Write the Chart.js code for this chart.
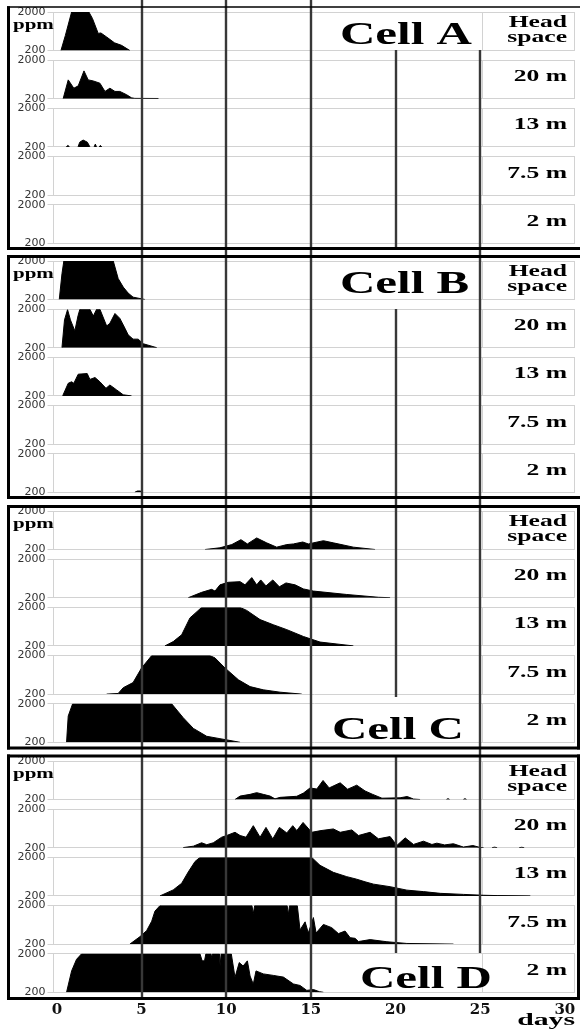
<!DOCTYPE html>
<html>
<head>
<meta charset="utf-8">
<script src="https://cdn.jsdelivr.net/npm/chart.js@4.4.1/dist/chart.umd.min.js"></script>
<style>
html,body{margin:0;padding:0;background:#fff;}
canvas{display:block;}
</style>
</head>
<body>
<canvas id="c" width="580" height="1030"></canvas>
<script>
// ---------------- DATA (day, ppm) ----------------
const X_TICKS = [0, 5, 10, 15, 20, 25, 30];
const Y_TICKS = [200, 2000];
const CELLS = ['Cell A', 'Cell B', 'Cell C', 'Cell D'];
const DEPTHS = [['Head', 'space'], ['20 m'], ['13 m'], ['7.5 m'], ['2 m']];

const A_HS = [[0.24,200],[0.5,900],[0.87,2000],[1.89,2000],[2.1,1700],[2.44,1000],[2.6,1020],[2.94,830],[3.4,560],[3.82,440],[4.31,200]];
const A_20 = [[0.37,200],[0.67,1080],[1.0,690],[1.26,800],[1.6,1500],[1.85,1080],[2.15,1030],[2.54,925],[2.84,540],[3.13,690],[3.43,540],[3.72,540],[4.12,385],[4.41,240],[4.6,215],[6.0,210]];
const A_13 = [[0.55,200],[0.65,270],[0.75,200],[1.25,200],[1.35,420],[1.55,520],[1.8,420],[1.95,200],[2.2,200],[2.27,330],[2.34,200],[2.5,200],[2.57,270],[2.65,200]];
const A_75 = [];
const A_2 = [];

const B_HS = [[0.14,200],[0.3,1400],[0.41,2000],[3.33,2000],[3.62,1180],[3.92,780],[4.21,500],[4.5,310],[5.2,200]];
const B_20 = [[0.3,200],[0.45,1500],[0.63,1980],[0.8,1500],[1.06,985],[1.25,1700],[1.36,2000],[1.95,2000],[2.15,1680],[2.35,2000],[2.54,2000],[2.94,1215],[3.13,1340],[3.43,1800],[3.72,1570],[4.02,1110],[4.21,800],[4.5,600],[4.8,600],[5.1,385],[5.9,200]];
const B_13 = [[0.34,200],[0.67,790],[0.87,860],[1.0,790],[1.26,1215],[1.79,1245],[1.95,970],[2.25,1060],[2.54,860],[2.9,555],[3.13,710],[3.53,480],[3.92,250],[4.41,200]];
const B_75 = [];
const B_2 = [[4.6,200],[4.75,260],[4.95,260],[5.0,200]];

const C_HS = [[8.75,200],[9.63,280],[10.33,430],[10.87,660],[11.25,460],[11.8,740],[12.39,510],[12.98,310],[13.58,430],[13.97,460],[14.52,550],[14.85,460],[15.74,610],[16.33,510],[17.51,310],[18.79,200]];
const C_20 = [[7.76,200],[8.55,450],[9.14,590],[9.34,510],[9.63,800],[10.12,920],[10.82,950],[11.11,800],[11.51,1140],[11.8,800],[12.04,1030],[12.35,750],[12.75,1030],[13.14,710],[13.53,890],[14.07,800],[14.56,610],[15.15,510],[17.12,350],[18.99,220],[19.68,200]];
const C_13 = [[6.38,200],[6.87,400],[7.37,720],[7.86,1510],[8.55,2000],[10.82,2000],[11.21,1860],[12.0,1430],[12.78,1190],[13.58,960],[14.56,640],[15.54,380],[17.51,200]];
const C_75 = [[2.94,200],[3.62,230],[3.92,500],[4.5,740],[5.0,1420],[5.6,2000],[9.04,2000],[9.34,1890],[9.93,1420],[10.72,870],[11.41,550],[12.19,400],[13.18,290],[14.46,200]];
const C_2 = [[0.57,200],[0.67,1430],[0.93,2000],[6.78,2000],[7.46,1350],[8.06,850],[8.85,480],[9.63,370],[10.82,200]];

const D_HS = [[10.52,200],[10.82,360],[11.41,440],[11.8,520],[12.19,440],[12.59,360],[12.88,230],[13.18,300],[14.17,350],[14.56,500],[14.95,740],[15.35,690],[15.72,1090],[16.08,740],[16.73,980],[17.17,680],[17.71,870],[18.2,600],[18.62,450],[19.2,260],[20.27,280],[20.69,340],[21.06,220],[21.45,200],[23.0,200],[23.1,240],[23.2,200],[24.0,200],[24.1,240],[24.2,200]];
const D_20 = [[7.46,205],[8.06,270],[8.55,430],[8.85,340],[9.24,430],[9.73,690],[10.03,770],[10.52,920],[10.82,770],[11.17,690],[11.6,1230],[12.0,690],[12.35,1150],[12.75,610],[13.14,1150],[13.58,890],[13.93,1230],[14.17,1000],[14.54,1380],[15.05,920],[15.6,1000],[16.33,1077],[16.73,920],[17.42,1030],[17.81,770],[18.5,920],[18.99,615],[19.68,720],[20.08,306],[20.57,660],[21.06,352],[21.65,505],[22.15,350],[22.44,412],[22.9,330],[23.42,385],[24.01,230],[24.57,300],[25.0,210],[25.2,200],[25.7,200],[25.85,225],[26.0,200],[27.3,200],[27.45,220],[27.6,200]];
const D_13 = [[6.09,200],[6.87,480],[7.37,790],[7.76,1320],[8.16,1810],[8.45,2000],[15.05,2000],[15.54,1630],[16.33,1300],[17.12,1100],[17.71,980],[18.2,860],[18.7,750],[19.68,630],[20.67,470],[21.65,400],[22.64,320],[24.01,270],[25.2,230],[26.0,215],[27.96,200]];
const D_75 = [[4.31,200],[4.91,550],[5.3,830],[5.6,1270],[5.79,1740],[6.09,2000],[11.52,2000],[11.6,1620],[11.68,2000],[13.6,2000],[13.67,1580],[13.74,2000],[14.2,2000],[14.36,860],[14.66,1240],[14.85,720],[15.15,1440],[15.31,720],[15.74,1120],[16.23,970],[16.63,690],[17.02,810],[17.32,500],[17.61,470],[17.81,320],[18.5,410],[19.49,310],[20.67,230],[23.42,200]];
const D_2 = [[0.57,200],[0.87,1200],[1.16,1740],[1.46,2000],[8.45,2000],[8.58,1670],[8.72,1670],[8.8,2000],[9.1,2000],[9.14,1820],[9.19,2000],[9.6,2000],[9.64,1430],[9.7,2000],[10.3,2000],[10.52,900],[10.77,1590],[11.0,1430],[11.25,1670],[11.41,960],[11.6,580],[11.76,1200],[12.19,1060],[12.78,990],[13.38,910],[13.97,590],[14.36,520],[14.76,290],[15.15,330],[15.5,230],[15.74,200]];

const SERIES = [
  [A_HS, A_20, A_13, A_75, A_2],
  [B_HS, B_20, B_13, B_75, B_2],
  [C_HS, C_20, C_13, C_75, C_2],
  [D_HS, D_20, D_13, D_75, D_2]
];

// ---------------- LAYOUT (pixels) ----------------
const PLOT_L = 53.5, PLOT_R = 575, X_AXIS_TOP = 998;
const CELL_TOP = [12, 261, 511, 761];
const ROW_STEP = 48.2, ROW_H = 38.5;
const BOX_L = 482;
const CELL_FRAME = [[7, 248.5, 1.5], [256.5, 497.5, 3], [506.5, 748, 3], [756, 998.5, 3]];
const RIGHT_FRAME = [false, false, true, true];
const CELL_TEXT = [[340, 43.5], [340, 292.5], [332, 739], [360, 988]];
const VLINES = [[5, 0, 998.5], [10, 0, 998.5], [15, 0, 998.5], [20, 50, 248.5], [20, 309, 697], [20, 756, 953], [25, 50, 953]];

function rowTop(c, r) { return CELL_TOP[c] + r * ROW_STEP; }

// ---------------- SCALES ----------------
const scales = {
  x: {
    type: 'linear', position: 'bottom', min: -0.2, max: 30.6,
    afterBuildTicks: s => { s.ticks = X_TICKS.map(v => ({value: v})); },
    grid: {display: false, drawTicks: false},
    border: {display: false},
    ticks: {autoSkip: false, maxRotation: 0, padding: 3, color: '#111',
            font: {family: 'DejaVu Serif', weight: 'bold', size: 15},
            callback: v => String(v)}
  }
};
for (let c = 0; c < 4; c++) {
  for (let r = 0; r < 5; r++) {
    scales['y' + c + r] = {
      type: 'linear', position: 'left', stack: 'rows', stackWeight: 1,
      min: 200, max: 2000,
      afterBuildTicks: s => { s.ticks = Y_TICKS.map(v => ({value: v})); },
      grid: {color: '#d2d2d2', lineWidth: 1, tickLength: 6, drawTicks: true},
      border: {color: '#d2d2d2', width: 1},
      ticks: {autoSkip: false, padding: 2, color: '#333',
              font: {family: 'DejaVu Sans', size: 11},
              callback: v => String(v)}
    };
  }
}

// ---------------- DATASETS ----------------
const datasets = [];
SERIES.forEach((rows, c) => rows.forEach((pts, r) => {
  if (!pts.length) return;
  datasets.push({
    data: pts.map(p => ({x: p[0], y: p[1]})),
    xAxisID: 'x', yAxisID: 'y' + c + r,
    fill: {value: 200},
    backgroundColor: '#000', borderColor: '#000', borderWidth: 1,
    pointRadius: 0, tension: 0,
    segment: {
      borderColor: ctx => (ctx.p0.parsed.y <= 200 && ctx.p1.parsed.y <= 200) ? 'rgba(0,0,0,0)' : undefined
    }
  });
}));

function stretchText(ctx, txt, x, y, font, sx, align) {
  ctx.save();
  ctx.font = font;
  ctx.textAlign = align;
  ctx.textBaseline = 'alphabetic';
  ctx.fillStyle = '#000';
  ctx.translate(x, y);
  ctx.scale(sx, 1);
  ctx.fillText(txt, 0, 0);
  ctx.restore();
}

const panelPlugin = {
  id: 'panels',
  afterLayout(chart) {
    const ca = chart.chartArea;
    ca.left = PLOT_L; ca.right = PLOT_R; ca.top = 0; ca.bottom = X_AXIS_TOP;
    ca.width = PLOT_R - PLOT_L; ca.height = X_AXIS_TOP;
    const x = chart.scales.x;
    x.left = PLOT_L; x.right = PLOT_R; x.width = PLOT_R - PLOT_L;
    x.top = X_AXIS_TOP; x.bottom = 1030; x.height = 1030 - X_AXIS_TOP;
    x.configure();
    for (let c = 0; c < 4; c++) {
      for (let r = 0; r < 5; r++) {
        const s = chart.scales['y' + c + r];
        const t = rowTop(c, r);
        s.left = 0; s.right = PLOT_L; s.width = PLOT_L;
        s.top = t; s.bottom = t + ROW_H; s.height = ROW_H;
        s.configure();
      }
    }
  },
  beforeDatasetsDraw(chart) {
    const ctx = chart.ctx;
    ctx.save();
    ctx.strokeStyle = '#d2d2d2';
    ctx.lineWidth = 1;
    for (let c = 0; c < 4; c++) {
      for (let r = 0; r < 5; r++) {
        const s = chart.scales['y' + c + r];
        ctx.beginPath();
        ctx.moveTo(BOX_L + 0.5, s.top); ctx.lineTo(BOX_L + 0.5, s.bottom);
        ctx.moveTo(PLOT_R - 0.5, s.top); ctx.lineTo(PLOT_R - 0.5, s.bottom);
        ctx.stroke();
      }
    }
    ctx.restore();
  },
  afterDraw(chart) {
    const ctx = chart.ctx;
    const x = chart.scales.x;
    ctx.save();
    // vertical day lines
    ctx.strokeStyle = '#383838';
    ctx.lineWidth = 2.4;
    VLINES.forEach(([d, y0, y1]) => {
      const px = Math.round(x.getPixelForValue(d));
      ctx.beginPath(); ctx.moveTo(px, y0); ctx.lineTo(px, y1); ctx.stroke();
    });
    // cell frames
    ctx.strokeStyle = '#000';
    CELL_FRAME.forEach(([t, b, tw], c) => {
      ctx.lineWidth = tw;
      ctx.beginPath(); ctx.moveTo(7, t); ctx.lineTo(580, t); ctx.stroke();
      ctx.lineWidth = 3;
      ctx.beginPath(); ctx.moveTo(7, b); ctx.lineTo(580, b); ctx.stroke();
      ctx.beginPath(); ctx.moveTo(8.5, t - tw / 2); ctx.lineTo(8.5, b + 1.5); ctx.stroke();
      if (RIGHT_FRAME[c]) {
        ctx.lineWidth = 3;
        ctx.beginPath(); ctx.moveTo(578.5, t - 1.5); ctx.lineTo(578.5, b + 1.5); ctx.stroke();
      }
    });
    ctx.restore();
    // texts
    for (let c = 0; c < 4; c++) {
      stretchText(ctx, CELLS[c], CELL_TEXT[c][0], CELL_TEXT[c][1], 'bold 32px "Liberation Serif"', 1.53, 'left');
      stretchText(ctx, 'ppm', 13, CELL_TOP[c] + 17, 'bold 15px "Liberation Serif"', 1.4, 'left');
      for (let r = 0; r < 5; r++) {
        const t = rowTop(c, r);
        const lines = DEPTHS[r];
        if (lines.length === 2) {
          stretchText(ctx, lines[0], 567, t + 15, 'bold 16px "Liberation Serif"', 1.6, 'right');
          stretchText(ctx, lines[1], 567, t + 30, 'bold 16px "Liberation Serif"', 1.6, 'right');
        } else {
          stretchText(ctx, lines[0], 567, t + 21, 'bold 16px "Liberation Serif"', 1.6, 'right');
        }
      }
    }
    stretchText(ctx, 'days', 575, 1025, 'bold 17px "Liberation Serif"', 1.75, 'right');
  }
};

new Chart(document.getElementById('c'), {
  type: 'line',
  data: {datasets},
  options: {
    responsive: false,
    animation: false,
    devicePixelRatio: 1,
    events: [],
    layout: {padding: 0},
    plugins: {legend: {display: false}, tooltip: {enabled: false}},
    scales
  },
  plugins: [panelPlugin]
});
</script>
</body>
</html>
